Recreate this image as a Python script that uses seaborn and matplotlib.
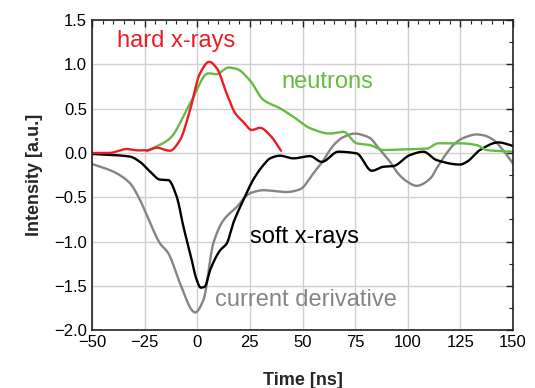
import numpy as np
import pandas as pd
import matplotlib
matplotlib.use("Agg")
import matplotlib.pyplot as plt
import seaborn as sns
from matplotlib.ticker import MultipleLocator

# --- data ---
hxr_t = [-50, -42, -33.5, -28, -24, -19.3, -13, -8.2, -3.4, 1.3, 5.7, 9.2, 14, 18, 21.9, 25.9, 29.8, 34.6, 39.8]
hxr_v = [0.0, 0.0, 0.045, 0.03, 0.03, 0.06, 0.026, 0.147, 0.49, 0.9, 1.03, 0.96, 0.67, 0.45, 0.35, 0.26, 0.285, 0.2, 0.026]

neu_t = [-24, -13, -3.4, 5.3, 9, 14.8, 18.7, 25, 31.4, 39.3, 45.6, 53.6, 63, 69.4, 75.7, 82, 88.4, 102.6, 109, 114.5, 124.8, 132.7, 137.5, 150]
neu_v = [0.02, 0.165, 0.56, 0.9, 0.89, 0.965, 0.95, 0.82, 0.6, 0.505, 0.41, 0.28, 0.22, 0.24, 0.11, 0.09, 0.034, 0.045, 0.05, 0.11, 0.11, 0.09, 0.034, 0.015]

sxr_t = [-50, -32, -27.2, -22.4, -17.7, -13.8, -9.8, -6.6, -3.4, -0.3, 1.6, 3.5, 6.1, 10.8, 14, 17.1, 21.9, 26.6, 31.4, 34.6, 39.3, 45.6, 53.6, 59.1, 67, 75.7, 82.9, 88.4, 93.1, 101, 107.4, 113.7, 124.8, 128, 134.3, 143, 150]
sxr_v = [-0.01, -0.04, -0.1, -0.21, -0.3, -0.305, -0.49, -0.83, -1.13, -1.43, -1.52, -1.51, -1.32, -1.1, -1.02, -0.79, -0.53, -0.3, -0.136, -0.06, -0.03, -0.06, -0.035, -0.1, 0.015, -0.004, -0.2, -0.155, -0.147, -0.023, 0.015, -0.08, -0.13, -0.1, 0.034, 0.12, 0.08]

cd_t = [-50, -39.9, -32, -27.2, -22.4, -17.7, -13.8, -8.2, -1.9, -1, 2.9, 7.6, 12.4, 18.7, 25, 31.4, 42.5, 48.8, 55.1, 60, 63, 66, 69.4, 74.9, 79, 82, 86, 91.6, 95, 99.5, 104.2, 110.6, 114, 118.5, 122, 126.4, 132.7, 136, 140.6, 145, 150]
cd_v = [-0.124, -0.21, -0.34, -0.53, -0.79, -1.02, -1.13, -1.47, -1.79, -1.8, -1.66, -1.02, -0.76, -0.61, -0.455, -0.42, -0.44, -0.41, -0.23, -0.08, 0.034, 0.12, 0.18, 0.22, 0.2, 0.17, 0.06, -0.1, -0.22, -0.32, -0.37, -0.29, -0.16, 0.0, 0.1, 0.17, 0.21, 0.2, 0.15, 0.04, -0.12]

labels = ["hard x-rays", "neutrons", "soft x-rays", "current derivative"]
x_ticks = [-50, -25, 0, 25, 50, 75, 100, 125, 150]
y_ticks = [-2.0, -1.5, -1.0, -0.5, 0.0, 0.5, 1.0, 1.5]

RED = "#ec1c24"
GREEN = "#66bb44"
BLACK = "#000000"
GRAY = "#858585"

sns.set_theme(style="white")
plt.rcParams['font.family'] = ['Liberation Sans', 'DejaVu Sans']
plt.rcParams['axes.unicode_minus'] = True

fig, ax = plt.subplots(figsize=(5.35, 3.88), dpi=100)
fig.subplots_adjust(left=0.172, right=0.959, top=0.948, bottom=0.149)


def pchip(t, v, n=600):
    x = np.asarray(t, float); y = np.asarray(v, float)
    h = np.diff(x); d = np.diff(y) / h
    m = np.zeros_like(y)
    for k in range(1, len(x) - 1):
        if d[k - 1] * d[k] > 0:
            w1 = 2 * h[k] + h[k - 1]; w2 = h[k] + 2 * h[k - 1]
            m[k] = (w1 + w2) / (w1 / d[k - 1] + w2 / d[k])
    m[0] = d[0]; m[-1] = d[-1]
    xx = np.linspace(x[0], x[-1], n)
    idx = np.clip(np.searchsorted(x, xx) - 1, 0, len(x) - 2)
    hh = h[idx]; s = (xx - x[idx]) / hh
    h00 = 2 * s**3 - 3 * s**2 + 1; h10 = s**3 - 2 * s**2 + s
    h01 = -2 * s**3 + 3 * s**2; h11 = s**3 - s**2
    yy = h00 * y[idx] + h10 * hh * m[idx] + h01 * y[idx + 1] + h11 * hh * m[idx + 1]
    return xx, yy


series = [(cd_t, cd_v, GRAY), (sxr_t, sxr_v, BLACK), (neu_t, neu_v, GREEN), (hxr_t, hxr_v, RED)]
for t, v, c in series:
    tt, vv = pchip(t, v)
    df = pd.DataFrame({"t": tt, "v": vv})
    sns.lineplot(data=df, x="t", y="v", ax=ax, color=c, lw=1.7)

ax.set_xlim(-50, 150)
ax.set_ylim(-2.0, 1.5)
ax.set_xticks(x_ticks)
ax.set_yticks(y_ticks)
ax.set_xticklabels([str(x).replace("-", "\u2212") for x in x_ticks])
ax.set_yticklabels([f"{y:.1f}".replace("-", "\u2212") for y in y_ticks])
ax.xaxis.set_minor_locator(MultipleLocator(5))
ax.yaxis.set_minor_locator(MultipleLocator(0.25))
ax.tick_params(which="both", direction="in", top=True, right=True, labelsize=12, colors="#222222", labelcolor="black")
ax.tick_params(which="major", length=5, width=1)
ax.tick_params(which="minor", length=3, width=0.8)
ax.grid(True, which="major", color="#d0d0d0", lw=1)
for s in ax.spines.values():
    s.set_color("#222222")
    s.set_linewidth(1.2)

ax.set_xlabel("Time [ns]", fontsize=13, fontweight="bold", labelpad=16)
ax.set_ylabel("Intensity [a.u.]", fontsize=13, fontweight="bold", labelpad=8)

ax.text(-10, 1.26, labels[0], color=RED, fontsize=17, ha="center", va="center")
ax.text(61.7, 0.80, labels[1], color=GREEN, fontsize=17, ha="center", va="center")
ax.text(50.7, -0.95, labels[2], color=BLACK, fontsize=17, ha="center", va="center")
ax.text(51.7, -1.66, labels[3], color=GRAY, fontsize=17, ha="center", va="center")

fig.savefig("out.png", dpi=100)
